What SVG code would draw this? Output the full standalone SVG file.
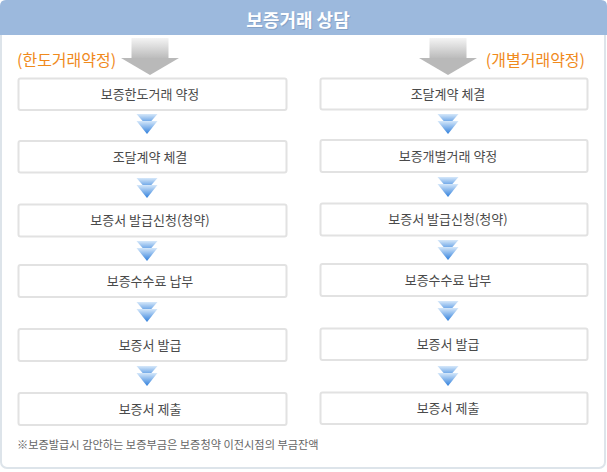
<svg xmlns="http://www.w3.org/2000/svg" width="607" height="472" viewBox="0 0 607 472">
<defs>
<linearGradient id="gshaft" x1="0" y1="0" x2="0" y2="1">
<stop offset="0" stop-color="#f4f4f4"/>
<stop offset="1" stop-color="#bcbcbc"/>
</linearGradient>
<linearGradient id="gchev" x1="0" y1="0" x2="0" y2="1">
<stop offset="0" stop-color="#d6e8fa"/>
<stop offset="1" stop-color="#2f7fdc"/>
</linearGradient>
<g id="chev">
<polygon points="-10.5,0 10.5,0 0,12" fill="url(#gchev)"/>
<polygon points="-10.5,7 10.5,7 0,20" fill="url(#gchev)"/>
</g>
<g id="bigarrow">
<rect x="-18.5" y="38" width="37" height="20" fill="url(#gshaft)"/>
<polygon points="-29,58 29,58 0,75" fill="#b9b9b9"/>
</g>
</defs>
<style>
.box{fill:#fff;stroke:#e2e2e2;stroke-width:2}
.t{font-family:"Noto Sans CJK KR","Noto Sans",sans-serif;font-size:13px;fill:#4a4a4a;text-anchor:middle}
.lbl{font-family:"Noto Sans CJK KR","Noto Sans",sans-serif;font-size:16px;fill:#f08a1c}
.note{font-family:"Noto Sans CJK KR","Noto Sans",sans-serif;font-size:11.2px;fill:#666}
.hd{font-family:"Noto Sans CJK KR","Noto Sans",sans-serif;font-size:18px;font-weight:bold;fill:#fff;text-anchor:middle}
</style>
<rect x="1" y="1" width="604" height="467" rx="6" fill="#fff" stroke="#dde4ea" stroke-width="2"/>
<g id="header">
<path d="M0,6 Q0,0 6,0 H601 Q607,0 607,6 V35 H0 Z" fill="#9cb9dd"/>
<text class="hd" x="299" y="28" style="fill:#86a3c8">보증거래 상담</text>
<text class="hd" x="298" y="27">보증거래 상담</text>
</g>
<g id="connectors">
<use href="#bigarrow" x="150" y="0"/>
<use href="#bigarrow" x="448" y="0"/>
<use href="#chev" x="147" y="114"/>
<use href="#chev" x="147" y="178"/>
<use href="#chev" x="147" y="241"/>
<use href="#chev" x="147" y="302"/>
<use href="#chev" x="147" y="366"/>
<use href="#chev" x="448" y="114"/>
<use href="#chev" x="448" y="177"/>
<use href="#chev" x="448" y="240"/>
<use href="#chev" x="448" y="301"/>
<use href="#chev" x="448" y="366"/>
</g>
<text class="lbl" x="17" y="66">(한도거래약정)</text>
<text class="lbl" x="585" y="66" text-anchor="end">(개별거래약정)</text>
<g id="L1"><rect class="box" x="18.5" y="78.5" width="268" height="31.5" rx="2"/><text class="t" x="150" y="99">보증한도거래 약정</text></g>
<g id="L2"><rect class="box" x="18.5" y="141" width="268" height="31.5" rx="2"/><text class="t" x="150" y="161.5">조달계약 체결</text></g>
<g id="L3"><rect class="box" x="18.5" y="204.5" width="268" height="32" rx="2"/><text class="t" x="150" y="225">보증서 발급신청(청약)</text></g>
<g id="L4"><rect class="box" x="18.5" y="265" width="268" height="32" rx="2"/><text class="t" x="150" y="285.5">보증수수료 납부</text></g>
<g id="L5"><rect class="box" x="18.5" y="329" width="268" height="32" rx="2"/><text class="t" x="150" y="349.5">보증서 발급</text></g>
<g id="L6"><rect class="box" x="18.5" y="393" width="268" height="32" rx="2"/><text class="t" x="150" y="413.5">보증서 제출</text></g>
<g id="R1"><rect class="box" x="320.5" y="78.5" width="267" height="31" rx="2"/><text class="t" x="448" y="99">조달계약 체결</text></g>
<g id="R2"><rect class="box" x="320.5" y="140" width="267" height="32" rx="2"/><text class="t" x="448" y="160.5">보증개별거래 약정</text></g>
<g id="R3"><rect class="box" x="320.5" y="203.5" width="267" height="32" rx="2"/><text class="t" x="448" y="224">보증서 발급신청(청약)</text></g>
<g id="R4"><rect class="box" x="320.5" y="264" width="267" height="32" rx="2"/><text class="t" x="448" y="284.5">보증수수료 납부</text></g>
<g id="R5"><rect class="box" x="320.5" y="328.5" width="267" height="31.5" rx="2"/><text class="t" x="448" y="349">보증서 발급</text></g>
<g id="R6"><rect class="box" x="320.5" y="392.5" width="267" height="31.5" rx="2"/><text class="t" x="448" y="413">보증서 제출</text></g>
<text class="note" x="17" y="449">※보증발급시 감안하는 보증부금은 보증청약 이전시점의 부금잔액</text>
</svg>
